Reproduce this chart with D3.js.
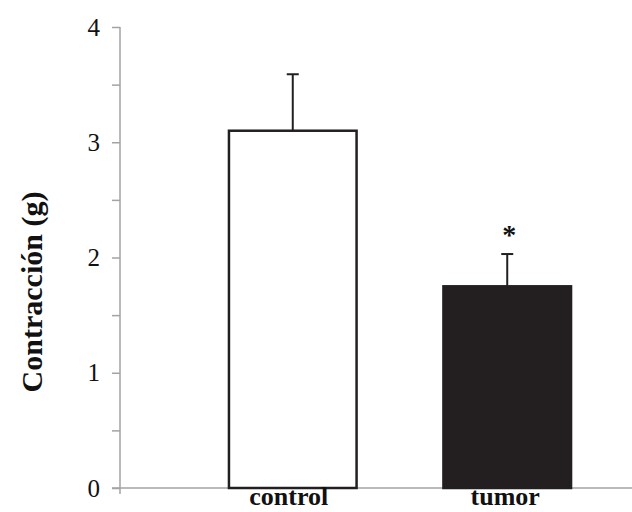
<!DOCTYPE html>
<html>
<head>
<meta charset="utf-8">
<script src="https://cdn.jsdelivr.net/npm/d3@7"></script>
<style>
  body { margin: 0; background: #fff; }
  text { font-family: "Liberation Serif", "DejaVu Serif", serif; fill: #111; }
</style>
</head>
<body>
<div id="chart"></div>
<script>
const categories = ['control', 'tumor'];
const means = [3.10, 1.75];
const errors = [0.49, 0.28];
const significant = [false, true];
const yTicks = [0, 1, 2, 3, 4];
const yMinorTicks = [0.5, 1.5, 2.5, 3.5];

const width = 632;
const height = 512;

const svg = d3.select('#chart')
  .append('svg')
  .attr('width', width)
  .attr('height', height);

const yScale = d3.scaleLinear()
  .domain([0, 4])
  .range([488, 27]);

const xScale = d3.scaleBand()
  .domain(categories)
  .range([120, 680])
  .paddingInner(0.405)
  .paddingOuter(0.508);

const axisColor = '#a3a3a3';

// y axis
const yAxis = svg.append('g')
  .attr('transform', 'translate(120,0)')
  .call(d3.axisLeft(yScale).tickValues(yTicks).tickSize(8).tickPadding(12).tickFormat(d3.format('d')));
yAxis.select('.domain').remove();
yAxis.selectAll('line').attr('stroke', axisColor).attr('stroke-width', 1.5);
yAxis.selectAll('text')
  .attr('font-size', '25px')
  .attr('font-family', '"Liberation Serif", serif')
  .attr('fill', '#111');

svg.append('g')
  .attr('transform', 'translate(120,0)')
  .call(d3.axisLeft(yScale).tickValues(yMinorTicks).tickSize(8).tickFormat(''))
  .call(g => g.select('.domain').remove())
  .selectAll('line').attr('stroke', axisColor).attr('stroke-width', 1.5);

svg.append('line')
  .attr('x1', 120).attr('x2', 120)
  .attr('y1', yScale(4)).attr('y2', yScale(0) + 6)
  .attr('stroke', axisColor).attr('stroke-width', 1.5);

// x axis line
svg.append('line')
  .attr('x1', 112).attr('x2', width)
  .attr('y1', yScale(0)).attr('y2', yScale(0))
  .attr('stroke', axisColor).attr('stroke-width', 1.5);

// error bars
const cap = 6;
categories.forEach((c, i) => {
  const cx = xScale(c) + xScale.bandwidth() / 2;
  svg.append('line')
    .attr('x1', cx).attr('x2', cx)
    .attr('y1', yScale(means[i])).attr('y2', yScale(means[i] + errors[i]))
    .attr('stroke', '#231f20').attr('stroke-width', 2);
  svg.append('line')
    .attr('x1', cx - cap).attr('x2', cx + cap)
    .attr('y1', yScale(means[i] + errors[i])).attr('y2', yScale(means[i] + errors[i]))
    .attr('stroke', '#231f20').attr('stroke-width', 2);
});

// bars
svg.selectAll('rect.bar')
  .data(categories)
  .enter()
  .append('rect')
  .attr('class', 'bar')
  .attr('x', d => xScale(d))
  .attr('y', (d, i) => yScale(means[i]))
  .attr('width', xScale.bandwidth())
  .attr('height', (d, i) => yScale(0) - yScale(means[i]))
  .attr('fill', (d, i) => i === 0 ? '#ffffff' : '#231f20')
  .attr('stroke', '#231f20')
  .attr('stroke-width', 2.5);

// significance marker
categories.forEach((c, i) => {
  if (!significant[i]) return;
  svg.append('text')
    .attr('x', xScale(c) + xScale.bandwidth() / 2 + 2)
    .attr('y', yScale(means[i] + errors[i]) - 10)
    .attr('text-anchor', 'middle')
    .attr('font-size', '28px')
    .attr('font-weight', 'bold')
    .text('*');
});

// category labels
svg.selectAll('text.cat')
  .data(categories)
  .enter()
  .append('text')
  .attr('class', 'cat')
  .attr('x', (d, i) => xScale(d) + xScale.bandwidth() / 2 - (i === 0 ? 4 : 2))
  .attr('y', 505)
  .attr('text-anchor', 'middle')
  .attr('font-size', '26px')
  .attr('font-weight', 'bold')
  .text(d => d);

// y label
svg.append('text')
  .attr('transform', 'translate(42,292) rotate(-90)')
  .attr('text-anchor', 'middle')
  .attr('font-size', '30px')
  .attr('font-weight', 'bold')
  .text('Contracción (g)');
</script>
</body>
</html>
